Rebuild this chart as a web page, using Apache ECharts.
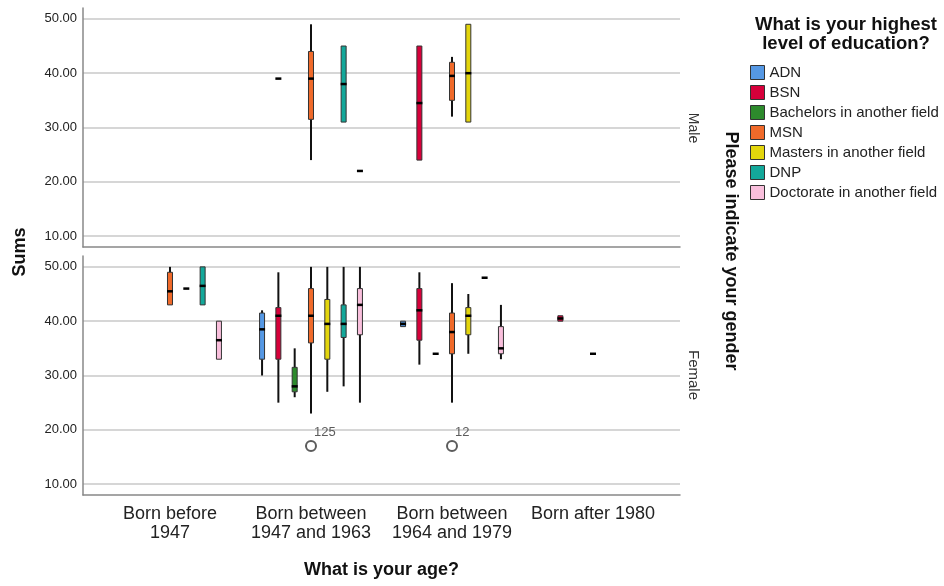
<!DOCTYPE html>
<html>
<head>
<meta charset="utf-8">
<script src="https://cdn.jsdelivr.net/npm/echarts@6/dist/echarts.min.js"></script>
<style>
  html, body { margin: 0; padding: 0; background: #fff; }
  #chart { width: 944px; height: 586px; }
</style>
</head>
<body>
<div id="chart"></div>
<script>
// categories
const ageGroups = ['Born before\n1947', 'Born between\n1947 and 1963', 'Born between\n1964 and 1979', 'Born after 1980'];
const eduLevels = ['ADN', 'BSN', 'Bachelors in another field', 'MSN', 'Masters in another field', 'DNP', 'Doctorate in another field'];
const eduColors = ['#5598e4', '#d7003a', '#2d8a2c', '#f06a2a', '#e3d50c', '#13a89a', '#f9bfdc'];
const yTicks = [10, 20, 30, 40, 50];

// box rows: [ageIndex, min, q1, median, q3, max]
const maleADN = [];
const maleBSN = [[1, 39, 39, 39, 39, 39], [2, 24, 24, 34.5, 45, 45]];
const maleBach = [];
const maleMSN = [[1, 24, 31.5, 39, 44, 49], [2, 32, 35, 39.5, 42, 43]];
const maleMasters = [[2, 31, 31, 40, 49, 49]];
const maleDNP = [[1, 31, 31, 38, 45, 45]];
const maleDoct = [[1, 22, 22, 22, 22, 22]];

const femaleADN = [[1, 30, 33, 38.5, 41.5, 42], [2, 39, 39, 39.5, 40, 40]];
const femaleBSN = [[1, 25, 33, 41, 42.5, 49], [2, 32, 36.5, 42, 46, 49], [3, 40, 40, 40.5, 41, 41]];
const femaleBach = [[1, 26, 27, 28, 31.5, 35], [2, 34, 34, 34, 34, 34]];
const femaleMSN = [[0, 43, 43, 45.5, 49, 50], [1, 23, 36, 41, 46, 50], [2, 25, 34, 38, 41.5, 47], [3, 34, 34, 34, 34, 34]];
const femaleMasters = [[0, 46, 46, 46, 46, 46], [1, 27, 33, 39.5, 44, 50], [2, 34, 37.5, 41, 42.5, 45]];
const femaleDNP = [[0, 43, 43, 46.5, 50, 50], [1, 28, 37, 39.5, 43, 50], [2, 48, 48, 48, 48, 48]];
const femaleDoct = [[0, 33, 33, 36.5, 40, 40], [1, 25, 37.5, 43, 46, 50], [2, 33, 34, 35, 39, 43]];

// outliers: [ageIndex, value, case id]
const femaleOutliers = [[1, 17, '125'], [2, 17, '12']];

const maleRows = [maleADN, maleBSN, maleBach, maleMSN, maleMasters, maleDNP, maleDoct];
const femaleRows = [femaleADN, femaleBSN, femaleBach, femaleMSN, femaleMasters, femaleDNP, femaleDoct];

const FONT = '"Liberation Sans", Arial, sans-serif';
const SLOT = 0.1157; // spacing of the 7 boxes inside an age group, in axis units
const BOX_W = 5;

function boxRenderer(slot) {
  return function (params, api) {
    const x = api.value(0) + (slot - 3) * SLOT;
    const lo = api.coord([x, api.value(1)]);
    const q1 = api.coord([x, api.value(2)]);
    const med = api.coord([x, api.value(3)]);
    const q3 = api.coord([x, api.value(4)]);
    const hi = api.coord([x, api.value(5)]);
    const cx = lo[0];
    const children = [];
    const wStyle = { stroke: '#111', lineWidth: 2 };
    if (hi[1] < q3[1] - 0.5) {
      children.push({ type: 'line', shape: { x1: cx, y1: q3[1], x2: cx, y2: hi[1] }, style: wStyle });
    }
    if (lo[1] > q1[1] + 0.5) {
      children.push({ type: 'line', shape: { x1: cx, y1: q1[1], x2: cx, y2: lo[1] }, style: wStyle });
    }
    if (q1[1] - q3[1] > 0.5) {
      children.push({
        type: 'rect',
        shape: { x: cx - BOX_W / 2, y: q3[1], width: BOX_W, height: q1[1] - q3[1] },
        style: { fill: api.visual('color'), stroke: '#333', lineWidth: 1 }
      });
    }
    children.push({
      type: 'rect',
      shape: { x: cx - BOX_W / 2 - 0.5, y: med[1] - 1.25, width: BOX_W + 1, height: 2.5 },
      style: { fill: '#000' }
    });
    return { type: 'group', children: children };
  };
}

function makeSeries(rowsList, axisIdx) {
  return rowsList.map(function (rows, i) {
    return {
      name: eduLevels[i],
      type: 'custom',
      xAxisIndex: axisIdx,
      yAxisIndex: axisIdx,
      itemStyle: { color: eduColors[i], borderColor: '#333', borderWidth: 1 },
      encode: { x: 0, y: [1, 2, 3, 4, 5] },
      renderItem: boxRenderer(i),
      data: rows
    };
  });
}

function yAxis(gridIndex) {
  return {
    type: 'value',
    gridIndex: gridIndex,
    min: 8,
    max: 52,
    axisLine: { show: true, onZero: false, lineStyle: { color: '#888', width: 1.5 } },
    axisTick: { show: false, customValues: yTicks },
    axisLabel: {
      customValues: yTicks,
      margin: 6,
      color: '#222',
      fontFamily: FONT,
      fontSize: 13,
      formatter: function (v) { return v.toFixed(2); }
    },
    splitLine: { show: true, lineStyle: { color: '#c8c8c8', width: 1.5 } }
  };
}

function xAxis(gridIndex, showLabels) {
  return {
    type: 'value',
    gridIndex: gridIndex,
    min: -0.617,
    max: 3.617,
    axisLine: { show: true, onZero: false, lineStyle: { color: '#888', width: 1.5 } },
    axisTick: { show: false, customValues: [0, 1, 2, 3] },
    splitLine: { show: false },
    axisLabel: {
      show: showLabels,
      customValues: [0, 1, 2, 3],
      margin: 10,
      color: '#222',
      fontFamily: FONT,
      fontSize: 18,
      lineHeight: 19,
      formatter: function (v) { return ageGroups[Math.round(v)]; }
    },
    name: showLabels ? 'What is your age?' : '',
    nameLocation: 'middle',
    nameGap: 66,
    nameTextStyle: { color: '#111', fontFamily: FONT, fontSize: 18, fontWeight: 'bold' }
  };
}

const chart = echarts.init(document.getElementById('chart'), null, { renderer: 'canvas' });

chart.setOption({
  animation: false,
  backgroundColor: '#fff',
  textStyle: { fontFamily: FONT },
  title: {
    text: 'What is your highest\nlevel of education?',
    left: 841,
    top: 10,
    textAlign: 'center',
    textStyle: { color: '#111', fontFamily: FONT, fontSize: 18.5, fontWeight: 'bold', lineHeight: 19 }
  },
  legend: {
    data: eduLevels,
    orient: 'vertical',
    left: 745,
    top: 60,
    icon: 'rect',
    itemWidth: 14,
    itemHeight: 14,
    itemGap: 5,
    itemStyle: { borderColor: '#333', borderWidth: 1 },
    textStyle: { color: '#222', fontFamily: FONT, fontSize: 15 }
  },
  grid: [
    { left: 83, top: 8, width: 597, height: 239 },
    { left: 83, top: 256, width: 597, height: 239 }
  ],
  xAxis: [xAxis(0, false), xAxis(1, true)],
  yAxis: [yAxis(0), yAxis(1)],
  graphic: [
    { type: 'text', x: 20, y: 252, rotation: Math.PI / 2,
      style: { text: 'Sums', fill: '#111', font: 'bold 18px ' + FONT, align: 'center', verticalAlign: 'middle' } },
    { type: 'text', x: 731, y: 251, rotation: -Math.PI / 2,
      style: { text: 'Please indicate your gender', fill: '#111', font: 'bold 18px ' + FONT, align: 'center', verticalAlign: 'middle' } },
    { type: 'text', x: 693, y: 128, rotation: -Math.PI / 2,
      style: { text: 'Male', fill: '#333', font: '14px ' + FONT, align: 'center', verticalAlign: 'middle' } },
    { type: 'text', x: 693, y: 375, rotation: -Math.PI / 2,
      style: { text: 'Female', fill: '#333', font: '15px ' + FONT, align: 'center', verticalAlign: 'middle' } }
  ],
  series: makeSeries(maleRows, 0).concat(makeSeries(femaleRows, 1)).concat([{
    type: 'scatter',
    xAxisIndex: 1,
    yAxisIndex: 1,
    symbol: 'emptyCircle',
    symbolSize: 10,
    itemStyle: { color: '#333', borderWidth: 1.2 },
    label: {
      show: true,
      position: [9, -14],
      color: '#333',
      fontFamily: FONT,
      fontSize: 13,
      formatter: function (p) { return p.data[2]; }
    },
    data: femaleOutliers
  }])
});
</script>
</body>
</html>
